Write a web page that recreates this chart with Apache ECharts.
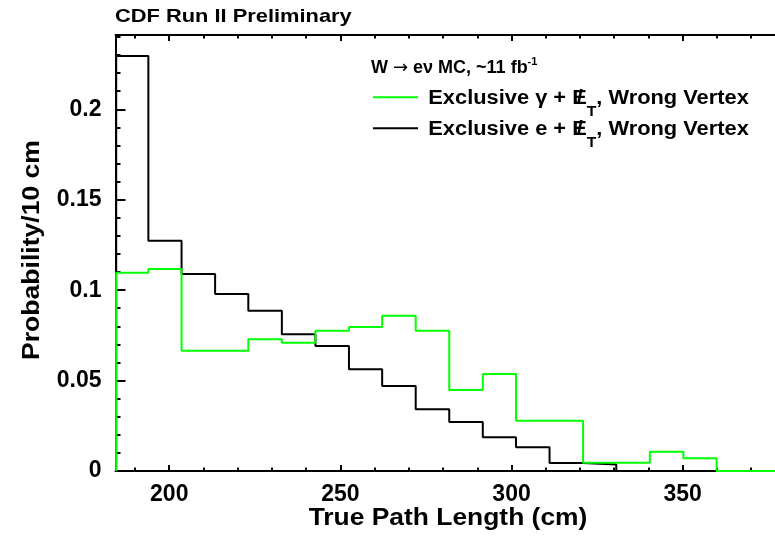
<!DOCTYPE html>
<html>
<head>
<meta charset="utf-8">
<title>True Path Length</title>
<script src="https://cdn.jsdelivr.net/npm/echarts@6/dist/echarts.min.js"></script>
<style>
  html, body { margin: 0; padding: 0; background: #fff; }
  #chart { width: 775px; height: 542px; }
</style>
</head>
<body>
<div id="chart"></div>
<script>
// Histogram bin edges (cm) shared by both samples
const binEdges = [184.5, 193.9, 203.6, 213.4, 223.1, 232.9, 242.7, 252.5, 262.2, 272.0,
                  281.8, 291.6, 301.3, 311.1, 320.9, 330.6, 340.4, 350.2, 359.9, 369.7, 379.5];

// Probability per bin, exclusive e + MET (wrong vertex)
const electronProb = [0.2295, 0.1273, 0.1089, 0.0979, 0.0886, 0.0756, 0.0691, 0.0562, 0.0470, 0.0341,
                      0.0271, 0.0186, 0.0131, 0.0044, 0.0036, 0, 0, 0, 0, 0];

// Probability per bin, exclusive gamma + MET (wrong vertex)
const photonProb = [0.1096, 0.1117, 0.0665, 0.0665, 0.0728, 0.0709, 0.0776, 0.0796, 0.0859, 0.0776,
                    0.0448, 0.0536, 0.0278, 0.0278, 0.0046, 0.0046, 0.0107, 0.0070, 0, 0];

// Axis ticks
const xMajorTicks = [200, 250, 300, 350];
const xMinorTicks = [190, 210, 220, 230, 240, 260, 270, 280, 290, 310, 320, 330, 340, 360, 370];
const yMajorTicks = [0, 0.05, 0.1, 0.15, 0.2];
const yMinorTicks = [0.01, 0.02, 0.03, 0.04, 0.06, 0.07, 0.08, 0.09, 0.11, 0.12, 0.13, 0.14,
                     0.16, 0.17, 0.18, 0.19, 0.21, 0.22, 0.23, 0.24];

const X_MIN = 184.3, X_MAX = 380;
const Y_MIN = 0, Y_MAX = 0.2411;

const FONT = '"Liberation Sans", Arial, Helvetica, sans-serif';
const GREEN = '#00ff00';

// Turn bin edges + contents into the outline of a histogram
function histOutline(edges, vals) {
  const pts = [[edges[0], 0]];
  vals.forEach((v, i) => pts.push([edges[i], v]));
  pts.push([edges[vals.length], vals[vals.length - 1]]);
  return pts;
}

function xAxisDef(position, ticks, len, withLine, withLabels) {
  return {
    type: 'value', position, min: X_MIN, max: X_MAX,
    axisLine: { show: withLine, onZero: false, lineStyle: { color: '#000', width: 2 } },
    axisTick: { show: true, inside: true, length: len, customValues: ticks,
                lineStyle: { color: '#000', width: 2 } },
    axisLabel: withLabels ? {
      show: true, customValues: ticks, margin: 12,
      fontSize: 23, fontWeight: 'bold', fontFamily: FONT, color: '#000'
    } : { show: false },
    splitLine: { show: false }
  };
}

function yAxisDef(position, ticks, len, withLine, withLabels) {
  return {
    type: 'value', position, min: Y_MIN, max: Y_MAX,
    axisLine: { show: withLine, onZero: false, lineStyle: { color: '#000', width: 2 } },
    axisTick: { show: true, inside: true, length: len, customValues: ticks,
                lineStyle: { color: '#000', width: 2 } },
    axisLabel: withLabels ? {
      show: true, customValues: ticks, margin: 14,
      formatter: v => String(v),
      fontSize: 23, fontWeight: 'bold', fontFamily: FONT, color: '#000'
    } : { show: false },
    splitLine: { show: false }
  };
}

// Legend entry text: E with a slash through it, subscript T
function metLabel(particle) {
  return 'Exclusive ' + particle + ' + {e|E}{sl|/}{sub|T}, Wrong Vertex';
}
const metRich = {
  e: { fontSize: 19.5, fontWeight: 'bold', fontFamily: FONT, fill: '#000', width: 4 },
  sl: { fontSize: 19.5, fontWeight: 'bold', fontFamily: FONT, fill: '#000', width: 9 },
  sub: { fontSize: 14, fontWeight: 'bold', fontFamily: FONT, fill: '#000', padding: [27, 0, 0, 0] }
};

const chart = echarts.init(document.getElementById('chart'), null, { renderer: 'canvas' });

chart.setOption({
  animation: false,
  backgroundColor: '#fff',
  grid: { left: 115.5, width: 669.9, top: 35, bottom: 71, containLabel: false, outerBoundsMode: 'none' },
  xAxis: [
    xAxisDef('bottom', xMajorTicks, 6, true, true),
    xAxisDef('bottom', xMinorTicks, 3.5, false, false),
    xAxisDef('top', xMajorTicks, 6, true, false),
    xAxisDef('top', xMinorTicks, 3.5, false, false)
  ],
  yAxis: [
    yAxisDef('left', yMajorTicks, 10, true, true),
    yAxisDef('left', yMinorTicks, 5, false, false),
    yAxisDef('right', yMajorTicks, 10, true, false),
    yAxisDef('right', yMinorTicks, 5, false, false)
  ],
  series: [
    {
      name: 'Exclusive e + MET, Wrong Vertex',
      type: 'line', step: 'end', symbol: 'none', xAxisIndex: 0, yAxisIndex: 0,
      lineStyle: { color: '#000', width: 2 },
      data: histOutline(binEdges, electronProb), z: 3
    },
    {
      name: 'Exclusive gamma + MET, Wrong Vertex',
      type: 'line', step: 'end', symbol: 'none', xAxisIndex: 0, yAxisIndex: 0,
      lineStyle: { color: GREEN, width: 2 },
      data: histOutline(binEdges, photonProb), z: 4
    }
  ],
  graphic: [
    {
      type: 'text', x: 115, y: 16.5, scaleX: 1.15,
      style: { text: 'CDF Run II Preliminary', fill: '#000', align: 'left', verticalAlign: 'middle',
               fontSize: 19, fontWeight: 'bold', fontFamily: FONT }
    },
    {
      type: 'text', x: 448, y: 518, scaleX: 1.1,
      style: { text: 'True Path Length (cm)', fill: '#000', align: 'center', verticalAlign: 'middle',
               fontSize: 24, fontWeight: 'bold', fontFamily: FONT }
    },
    {
      type: 'text', x: 32.5, y: 250, rotation: Math.PI / 2, scaleX: 1.14,
      style: { text: 'Probability/10 cm', fill: '#000', align: 'center', verticalAlign: 'middle',
               fontSize: 23.3, fontWeight: 'bold', fontFamily: FONT }
    },
    // legend header
    {
      type: 'text', x: 371, y: 68.2,
      style: {
        text: 'W {arr|\u2192} e\u03bd MC, ~11 fb{sup|-1}', fill: '#000', align: 'left', verticalAlign: 'middle',
        fontSize: 18, fontWeight: 'bold', fontFamily: FONT,
        rich: {
          arr: { fontSize: 18, fontWeight: 'normal', fontFamily: '"DejaVu Sans", sans-serif', fill: '#000' },
          sup: { fontSize: 11, fontWeight: 'bold', fontFamily: FONT, fill: '#000', padding: [0, 0, 12, 0] }
        }
      }
    },
    // legend entries
    {
      type: 'line', shape: { x1: 373, y1: 97.3, x2: 418, y2: 97.3 },
      style: { stroke: GREEN, lineWidth: 2 }
    },
    {
      type: 'text', x: 428.3, y: 98.3, scaleX: 1.12,
      style: {
        text: metLabel('\u03b3'), fill: '#000', align: 'left', verticalAlign: 'middle',
        fontSize: 19.5, fontWeight: 'bold', fontFamily: FONT, rich: metRich
      }
    },
    {
      type: 'line', shape: { x1: 373, y1: 128.3, x2: 418, y2: 128.3 },
      style: { stroke: '#000', lineWidth: 2 }
    },
    {
      type: 'text', x: 428.3, y: 129.3, scaleX: 1.12,
      style: {
        text: metLabel('e'), fill: '#000', align: 'left', verticalAlign: 'middle',
        fontSize: 19.5, fontWeight: 'bold', fontFamily: FONT, rich: metRich
      }
    }
  ]
});
</script>
</body>
</html>
